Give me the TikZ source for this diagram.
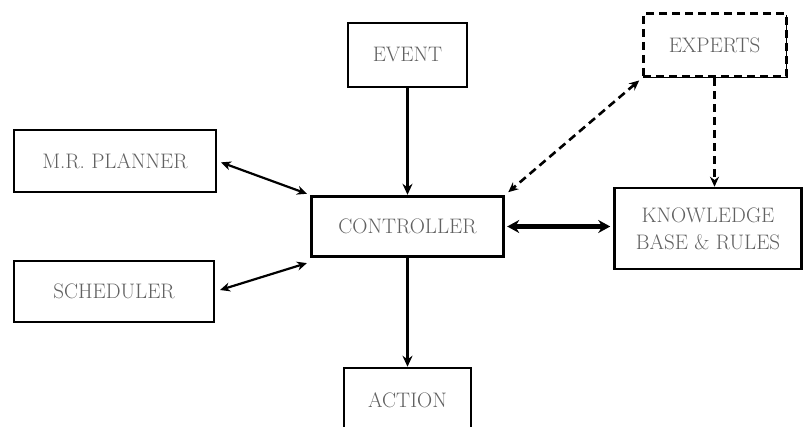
\documentclass[tikz,border=0pt]{standalone}
\usetikzlibrary{arrows.meta,shadows}
\begin{document}
\begin{tikzpicture}[x=1pt,y=-1pt,
  box/.style={draw=black, line width=2.5pt, fill=white, text=black!62,
    font=\fontsize{21}{27}\selectfont, align=center, inner sep=0pt,
    drop shadow={shadow xshift=1.2pt, shadow yshift=-1.2pt, fill=black, opacity=1}},
  dbox/.style={box, dash pattern=on 8pt off 5pt, line width=3pt},
  conn/.style={line width=2.2pt, {Stealth[length=10pt,width=9pt]}-{Stealth[length=10pt,width=9pt]}},
  oneway/.style={line width=2.3pt, -{Stealth[length=11pt,width=10pt]}},
  dconn/.style={conn, line width=2.6pt, dash pattern=on 8pt off 5pt},
  thickconn/.style={line width=5.5pt, {Stealth[length=12pt,width=13pt]}-{Stealth[length=12pt,width=13pt]}}
]
\clip (0,0) rectangle (805,427);
\fill[white] (0,0) rectangle (805,427);
\node[box, minimum width=119pt, minimum height=64pt] (event) at (407.5,55) {EVENT};
\node[dbox, minimum width=143pt, minimum height=63pt] (experts) at (714.5,45.5) {EXPERTS};
\node[box, line width=3.4pt, minimum width=192pt, minimum height=60pt] (ctrl) at (407.5,226.5) {CONTROLLER};
\node[box, minimum width=187pt, minimum height=81pt] (know) at (708,228.5) {KNOWLEDGE\\BASE \& RULES};
\node[box, minimum width=202pt, minimum height=62pt] (planner) at (115,161) {M.R. PLANNER};
\node[box, minimum width=200pt, minimum height=61pt] (sched) at (114,291.5) {SCHEDULER};
\node[box, minimum width=127pt, minimum height=64pt] (action) at (407.5,400) {ACTION};

\draw[oneway] (event.south) -- (ctrl.north);
\draw[oneway] (ctrl.south) -- (action.north);
\draw[conn, shorten <=4pt, shorten >=3pt] (planner.east) -- (ctrl.north west);
\draw[conn, shorten <=5pt, shorten >=3pt] (sched.east) -- ([yshift=-4pt]ctrl.south west);
\draw[thickconn, shorten <=2pt, shorten >=3pt] (ctrl.east) -- (ctrl.east -| know.west);
\draw[dconn, shorten <=3pt, shorten >=4pt] (experts.south west) -- (ctrl.north east);
\draw[dconn, -{Stealth[length=10pt,width=9pt]}] (experts.south) -- (experts.south |- know.north);
\end{tikzpicture}
\end{document}
